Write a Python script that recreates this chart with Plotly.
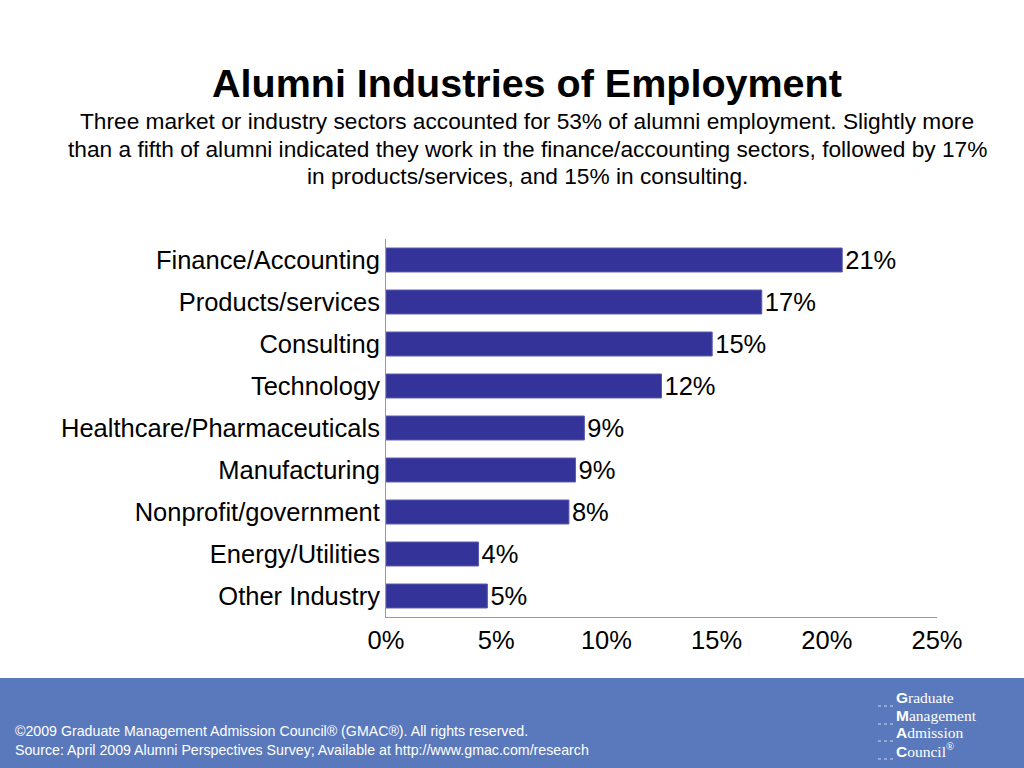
import plotly.graph_objects as go

categories = ["Finance/Accounting", "Products/services", "Consulting", "Technology",
              "Healthcare/Pharmaceuticals", "Manufacturing", "Nonprofit/government",
              "Energy/Utilities", "Other Industry"]
values = [20.7, 17.05, 14.8, 12.5, 9.0, 8.6, 8.3, 4.2, 4.6]
value_labels = ["21%", "17%", "15%", "12%", "9%", "9%", "8%", "4%", "5%"]
tick_vals = [0, 5, 10, 15, 20, 25]
tick_text = ["0%", "5%", "10%", "15%", "20%", "25%"]
subtitle_lines = [
    "Three market or industry sectors accounted for 53% of alumni employment. Slightly more",
    "than a fifth of alumni indicated they work in the finance/accounting sectors, followed by 17%",
    "in products/services, and 15% in consulting.",
]

W, H = 1024, 768
L, R, T, B = 386, 87, 239, 151
PW, PH = W - L - R, H - T - B


def px(x):
    return (x - L) / PW


def py(y):
    return (H - B - y) / PH


FONT = "Liberation Sans, Arial, sans-serif"
FS = 25.5

fig = go.Figure()
fig.add_trace(go.Bar(
    y=categories, x=values, orientation="h",
    text=value_labels, textposition="outside", cliponaxis=False, constraintext="none",
    textfont=dict(size=FS, color="#000000", family=FONT),
    marker=dict(color="#333399", line=dict(color="#5a5ab0", width=1)),
    hoverinfo="skip",
))

fig.update_layout(
    width=W, height=H,
    margin=dict(l=L, r=R, t=T, b=B, pad=0),
    paper_bgcolor="white", plot_bgcolor="white",
    showlegend=False, bargap=0.43,
    font=dict(family=FONT, color="#000000"),
    xaxis=dict(range=[0, 25], tickvals=tick_vals, ticktext=tick_text,
               showgrid=False, zeroline=False, showline=True, linecolor="#999999",
               linewidth=1, ticks="", tickfont=dict(size=FS, color="#000000"),
               fixedrange=True),
    yaxis=dict(categoryorder="array", categoryarray=categories[::-1],
               showgrid=False, zeroline=False, showline=True, linecolor="#999999",
               linewidth=1, ticks="", ticklabelstandoff=0,
               tickfont=dict(size=FS, color="#000000"), fixedrange=True),
)

# footer band
fig.add_shape(type="rect", xref="paper", yref="paper",
              x0=px(-10), x1=px(W + 10), y0=py(H + 10), y1=py(678),
              fillcolor="#5a79bd", line=dict(width=0), layer="below")

# title & subtitle
fig.add_annotation(xref="paper", yref="paper", x=px(527), y=py(83),
                   text="<b>Alumni Industries of Employment</b>", showarrow=False,
                   xanchor="center", yanchor="middle",
                   font=dict(size=39.5, color="#000000", family=FONT))
for i, line in enumerate(subtitle_lines):
    fig.add_annotation(xref="paper", yref="paper", x=px(527), y=py(121 + 27.5 * i),
                       text=line, showarrow=False, xanchor="center", yanchor="middle",
                       font=dict(size=22.7, color="#000000", family=FONT))

# footer text
fig.add_annotation(xref="paper", yref="paper", x=px(13), y=py(731),
                   text="©2009 Graduate Management Admission Council® (GMAC®). All rights reserved.",
                   showarrow=False, xanchor="left", yanchor="middle",
                   font=dict(size=14.2, color="white", family=FONT))
fig.add_annotation(xref="paper", yref="paper", x=px(13), y=py(750),
                   text="Source: April 2009 Alumni Perspectives Survey; Available at http://www.gmac.com/research",
                   showarrow=False, xanchor="left", yanchor="middle",
                   font=dict(size=14.2, color="white", family=FONT))

# logo
logo_lines = [("G", "raduate", 697), ("M", "anagement", 715), ("A", "dmission", 732), ("C", "ouncil<sup>®</sup>", 750)]
for first, rest, yy in logo_lines:
    fig.add_annotation(xref="paper", yref="paper", x=px(894), y=py(yy),
                       text=f"<span style='font-family:Liberation Sans, Arial, sans-serif'><b>{first}</b></span>{rest}",
                       showarrow=False, xanchor="left", yanchor="middle",
                       font=dict(size=15.5, color="white", family="Liberation Serif, DejaVu Serif, serif"))
    fig.add_shape(type="line", xref="paper", yref="paper",
                  x0=px(878), x1=px(893), y0=py(yy + 9), y1=py(yy + 9),
                  line=dict(color="rgba(255,255,255,0.7)", width=1, dash="dot"))

fig.write_html("out.html", config={"displayModeBar": False},
               post_script="document.body.style.margin='0';")
